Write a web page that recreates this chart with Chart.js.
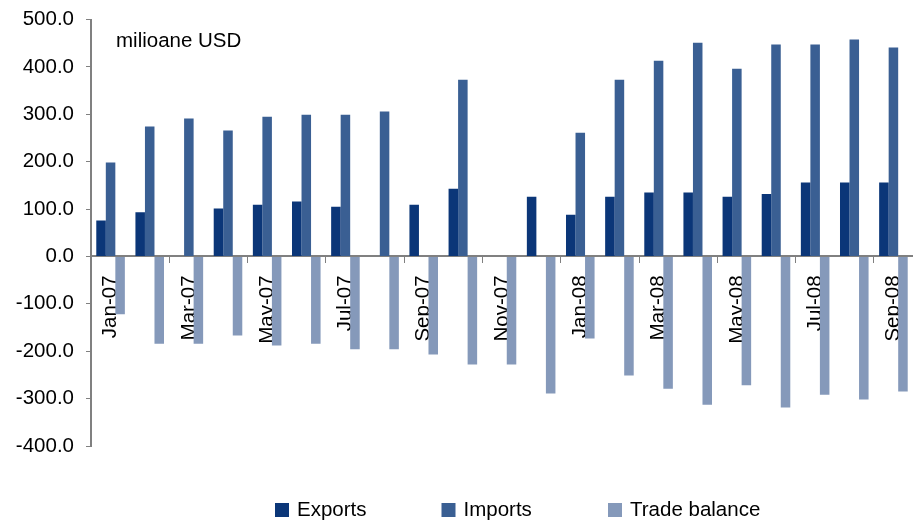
<!DOCTYPE html>
<html>
<head>
<meta charset="utf-8">
<script src="https://cdn.jsdelivr.net/npm/chart.js@4.4.1/dist/chart.umd.min.js"></script>
<style>
  html, body { margin: 0; padding: 0; background: #fff; }
</style>
</head>
<body>
<canvas id="myChart" width="913" height="522"></canvas>
<script>
var luni = ['Jan-07', 'Feb-07', 'Mar-07', 'Apr-07', 'May-07', 'Jun-07', 'Jul-07', 'Aug-07', 'Sep-07', 'Oct-07', 'Nov-07',
    'Dec-07', 'Jan-08', 'Feb-08', 'Mar-08', 'Apr-08', 'May-08', 'Jun-08', 'Jul-08', 'Aug-08', 'Sep-08'];
var exporturi = [76, 93, null, 101, 109, 116, 105, null, 109, 143, null,
    126, 88, 126, 135, 135, 126, 132, 156, 156, 156];
var importuri = [198, 274, 291, 266, 295, 299, 299, 306, null, 373, null,
    null, 261, 373, 413, 451, 396, 447, 447, 458, 441];
var balanta = [-122, -184, -184, -167, -188, -184, -196, -196, -207, -228, -228,
    -289, -173, -251, -279, -313, -272, -319, -292, -302, -285];

var font = "'Liberation Sans', Arial, sans-serif";
Chart.defaults.font.family = font;
Chart.defaults.font.size = 20.5;
Chart.defaults.color = '#000';

// legenda si eticheta de unitate, desenate pe canvas
const legendaJos = {
    id: 'legendaJos',
    afterDraw(chart) {
        const c = chart.ctx;
        c.save();
        c.font = '20.5px ' + font;
        c.textBaseline = 'alphabetic';
        chart.data.datasets.forEach(function (ds, i) {
            const x = 275 + i * 166.5;
            c.fillStyle = ds.backgroundColor;
            c.fillRect(x, 503, 14, 14);
            c.fillStyle = '#000';
            c.fillText(ds.label, x + 22, 516);
        });
        c.fillText('milioane USD', 116, 46.5);
        c.restore();
    }
};

let ctx = document.getElementById('myChart').getContext('2d');
let myChart = new Chart(ctx, {
    type: 'bar',
    data: {
        labels: luni,
        datasets: [{
            label: 'Exports',
            data: exporturi,
            backgroundColor: '#0b3678'
        }, {
            label: 'Imports',
            data: importuri,
            backgroundColor: '#3a5f93'
        }, {
            label: 'Trade balance',
            data: balanta,
            backgroundColor: '#8599ba'
        }]
    },
    options: {
        responsive: false,
        animation: false,
        layout: {
            padding: { top: 19.5, bottom: 76, left: 0, right: 0 }
        },
        datasets: {
            bar: {
                barPercentage: 1,
                categoryPercentage: 0.73
            }
        },
        plugins: {
            legend: { display: false },
            tooltip: { enabled: false }
        },
        scales: {
            x: {
                position: { y: 0 },
                afterFit: function (s) {
                    s.height = 0;
                    s.paddingLeft = 0;
                    s.paddingRight = 0;
                },
                grid: {
                    drawOnChartArea: false,
                    tickLength: 6,
                    color: function (c) {
                        return (c.index > 0 && c.index % 2 === 0) ? '#808080' : 'rgba(0,0,0,0)';
                    }
                },
                border: { color: '#808080', width: 2 },
                ticks: {
                    autoSkip: false,
                    minRotation: 90,
                    maxRotation: 90,
                    padding: 13,
                    callback: function (v, i) {
                        return i % 2 === 0 ? luni[i] : '';
                    }
                }
            },
            y: {
                min: -400,
                max: 500,
                afterFit: function (s) {
                    s.width = 91;
                    s.paddingTop = 0;
                    s.paddingBottom = 0;
                },
                grid: {
                    drawOnChartArea: false,
                    tickLength: 5,
                    color: '#808080'
                },
                border: { color: '#808080', width: 2 },
                ticks: {
                    stepSize: 100,
                    padding: 12,
                    callback: function (v) {
                        return v.toFixed(1);
                    }
                }
            }
        }
    },
    plugins: [legendaJos]
});
</script>
</body>
</html>
